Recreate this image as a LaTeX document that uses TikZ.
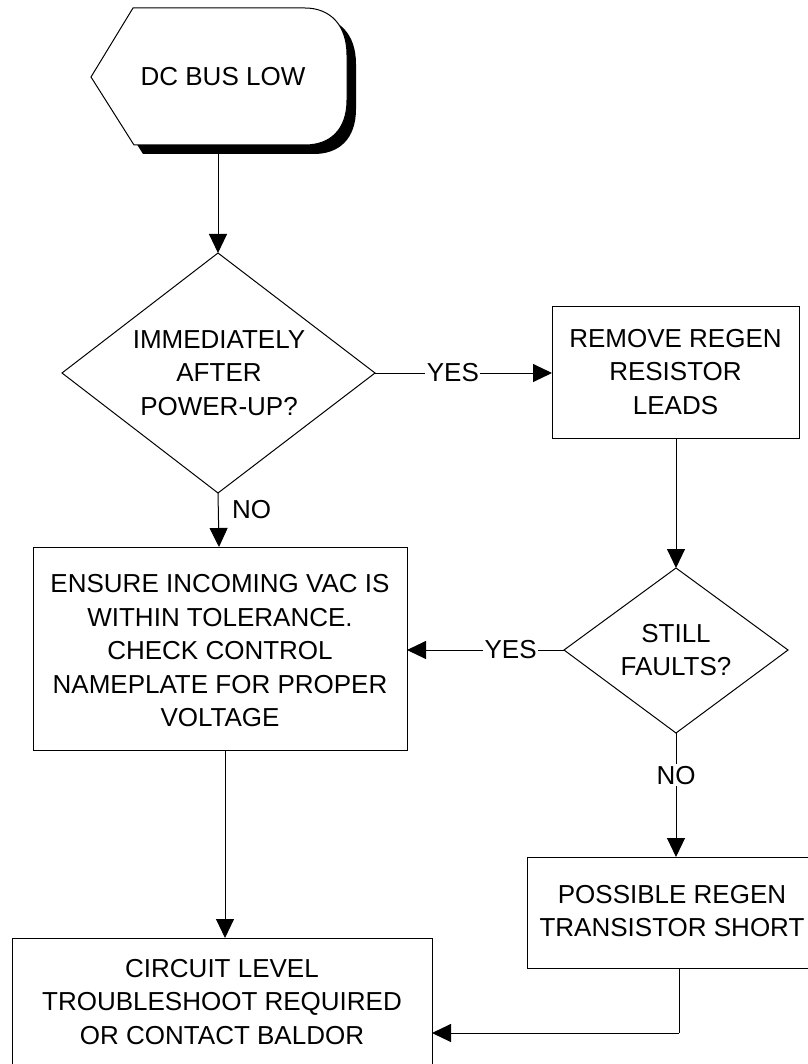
\documentclass[tikz,border=0pt]{standalone}
\usepackage{fontspec}
\setmainfont{Liberation Sans}
\usetikzlibrary{arrows.meta,calc}
\begin{document}
\begin{tikzpicture}[x=1pt,y=-1pt,
  every node/.style={font=\fontsize{26}{33.5}\selectfont},
  txt/.style={align=center,inner sep=0pt},
  boxed/.style={draw,line width=1pt,fill=white},
  arr/.style={line width=1pt,-{Triangle[length=19pt,width=18pt]}},
  conn/.style={line width=1pt},
  lbl/.style={fill=white,inner sep=1.5pt}]
\useasboundingbox (0,0) rectangle (807,1064);
% start shape (with shadow)
\fill[black,shift={(9,9)}] (133,8) -- (305,8) .. controls (330,8) and (347,25) .. (347,55) -- (347,100) .. controls (347,130) and (330,145) .. (305,145) -- (134,145) -- (91,77) -- cycle;
\draw[line width=1pt,fill=white] (133,8) -- (305,8) .. controls (330,8) and (347,25) .. (347,55) -- (347,100) .. controls (347,130) and (330,145) .. (305,145) -- (134,145) -- (91,77) -- cycle;
\node[txt] (start) at (223,77) {DC BUS LOW};
\coordinate (startb) at (218,154);
% decision 1
\coordinate (d1t) at (218,253);
\coordinate (d1r) at (375,373);
\coordinate (d1b) at (218,493);
\coordinate (d1l) at (62,373);
\draw[line width=1pt] (d1t) -- (d1r) -- (d1b) -- (d1l) -- cycle;
\node[txt] (d1) at (219,373) {IMMEDIATELY\\AFTER\\POWER-UP?};
% remove box
\draw[boxed] (552,306) rectangle (799,438);
\node[txt] (r1) at (675.5,372) {REMOVE REGEN\\RESISTOR\\LEADS};
\coordinate (r1w) at (552,373);
\coordinate (r1s) at (676,438);
% decision 2
\coordinate (d2t) at (676,568);
\coordinate (d2r) at (788,650);
\coordinate (d2b) at (676,733);
\coordinate (d2l) at (564,650);
\draw[line width=1pt] (d2t) -- (d2r) -- (d2b) -- (d2l) -- cycle;
\node[txt] (d2) at (676,650) {STILL\\FAULTS?};
% ensure box
\draw[boxed] (33,547) rectangle (407,750);
\node[txt] (e) at (220,651) {ENSURE INCOMING VAC IS\\WITHIN TOLERANCE.\\CHECK CONTROL\\NAMEPLATE FOR PROPER\\VOLTAGE};
% possible box
\draw[boxed] (527,857) rectangle (822,968);
\node[txt] (p) at (672,911) {POSSIBLE REGEN\\TRANSISTOR SHORT};
% circuit box
\draw[boxed] (12,938) rectangle (432,1080);
\node[txt] (c) at (222,1002) {CIRCUIT LEVEL\\TROUBLESHOOT REQUIRED\\OR CONTACT BALDOR};
% connectors
\draw[arr] (startb) -- (d1t);
\draw[arr] (d1r) -- node[lbl,pos=0.44]{YES} (r1w);
\draw[arr] (d1b) -- (219,547);
\node[inner sep=0pt,anchor=west] (no1) at (232,510) {NO};
\draw[arr] (r1s) -- (d2t);
\draw[arr] (d2l) -- node[lbl,pos=0.34]{YES} (407,650);
\draw[arr] (d2b) -- node[lbl,pos=0.34]{NO} (676,857);
\draw[arr] (225,750) -- (225,938);
\coordinate (k) at (679,1033);
\draw[conn] (679,968) -- (k);
\draw[arr] (k) -- (432,1033);
\end{tikzpicture}
\end{document}
